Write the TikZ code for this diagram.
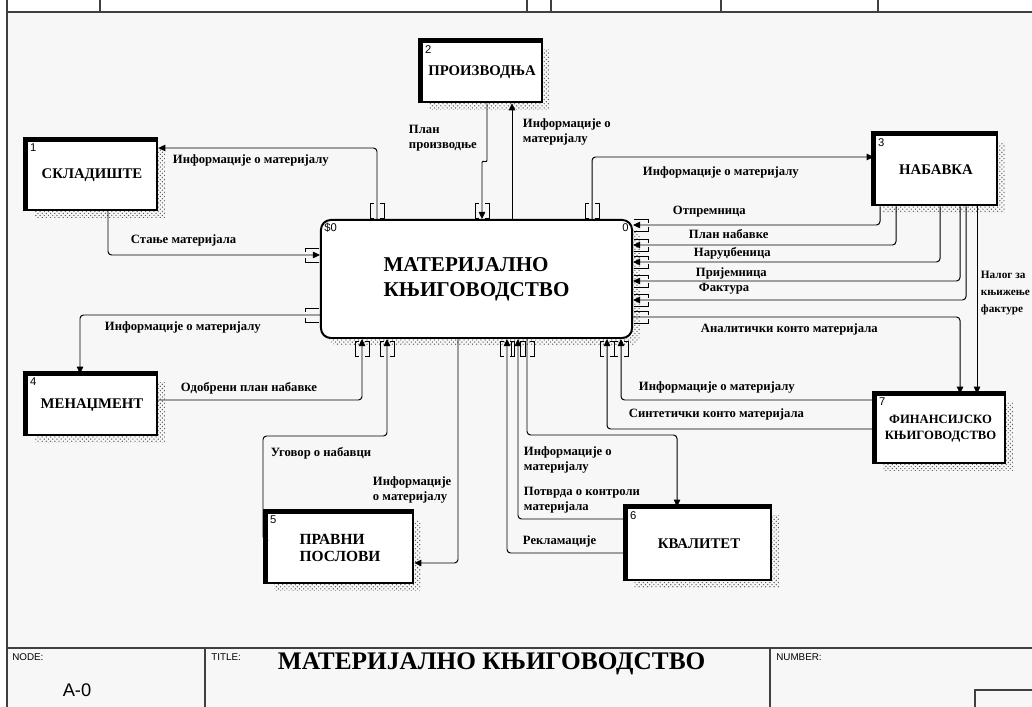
\documentclass[tikz,border=0pt]{standalone}
\usepackage{fontspec}
\setmainfont{Liberation Serif}
\newfontfamily\sansfont{Liberation Sans}
\usetikzlibrary{arrows.meta,patterns,shadows}
\definecolor{SheetGray}{HTML}{F7F7F7}
\definecolor{ShadowGray}{HTML}{5A5A5A}
\definecolor{RuleGray}{HTML}{404040}
\tikzset{
  actbox/.style={draw=black,fill=white,line width=1.8pt,
    font=\fontsize{10.5}{12.5}\selectfont\bfseries,align=center,inner sep=2pt,
    general shadow={shadow xshift=5.5pt,shadow yshift=-5.5pt,
      pattern=crosshatch dots,pattern color=ShadowGray}},
  mainbox/.style={draw=black,fill=white,line width=1.4pt,rounded corners=7pt,
    minimum width=7.775cm,minimum height=2.95cm,
    font=\fontsize{15}{18}\selectfont\bfseries,align=left,inner sep=2pt,
    general shadow={shadow xshift=5.5pt,shadow yshift=-5.5pt,
      pattern=crosshatch dots,pattern color=ShadowGray}},
  boxnum/.style={anchor=north west,inner sep=3pt,font=\sansfont\fontsize{8}{9}\selectfont},
  boxrim/.style={line width=3.4pt},
  flow/.style={line width=0.7pt,rounded corners=2.5pt,-{Triangle[length=5pt,width=4.6pt]}},
  tunnel/.style={line width=0.6pt},
  flowlabel/.style={anchor=west,inner sep=0.5pt,align=left,
    font=\fontsize{9}{10.8}\selectfont\bfseries},
  framerule/.style={line width=0.8pt,draw=RuleGray},
  sheettext/.style={anchor=north west,inner sep=0pt,font=\sansfont\fontsize{7}{8}\selectfont},
}
\begin{document}
\begin{tikzpicture}[x=0.025cm,y=-0.025cm]
  \useasboundingbox (0,0) rectangle (1032,707);
  \fill[white] (0,0) rectangle (1032,707);
  \fill[SheetGray] (7,12) rectangle (1032,707);
  \draw[framerule] (7,0) -- (7,707);
  \draw[framerule] (7,12) -- (1032,12);
  \foreach \x in {100,527,551,721,878} \draw[framerule] (\x,0) -- (\x,12);
  \draw[framerule] (7,648) -- (1032,648);
  \draw[framerule] (205,648) -- (205,707);
  \draw[framerule] (770,648) -- (770,707);
  \draw[framerule] (975,707) |- (1032,690);
  \node[sheettext] (nodelbl) at (12,653) {NODE:};
  \node[sheettext] (titlelbl) at (211,653) {TITLE:};
  \node[sheettext] (numlbl) at (776,653) {NUMBER:};
  \node[font=\sansfont\fontsize{13}{15}\selectfont] (nodeno) at (77,690) {A-0};
  \node[anchor=west,font=\fontsize{18}{21}\selectfont\bfseries] (titletxt) at (273,664) {МАТЕРИЈАЛНО КЊИГОВОДСТВО};

  \node[mainbox] (main) at (476.5,279) {МАТЕРИЈАЛНО\\КЊИГОВОДСТВО};
  \node[actbox,minimum width=3.25cm,minimum height=1.725cm] (skl) at (92,175.5) {СКЛАДИШТЕ};
  \node[actbox,minimum width=3.0cm,minimum height=1.5cm] (pro) at (482,72) {ПРОИЗВОДЊА};
  \node[actbox,minimum width=3.05cm,minimum height=1.75cm] (nab) at (936,170) {НАБАВКА};
  \node[actbox,minimum width=3.25cm,minimum height=1.5cm] (men) at (92,405) {МЕНАЏМЕНТ};
  \node[actbox,minimum width=3.65cm,minimum height=1.75cm,align=left,
    font=\fontsize{11}{12.5}\selectfont\bfseries] (prav) at (340,548) {ПРАВНИ\\ПОСЛОВИ};
  \node[actbox,minimum width=3.6cm,minimum height=1.8cm] (kval) at (699,544) {КВАЛИТЕТ};
  \node[actbox,minimum width=3.225cm,minimum height=1.7cm,
    font=\fontsize{9}{11.5}\selectfont\bfseries] (fin) at (940.5,429) {ФИНАНСИЈСКО\\КЊИГОВОДСТВО};
  \foreach \b in {skl,pro,nab,men,prav,kval,fin}
    \draw[boxrim] (\b.south west) -- (\b.north west) -- (\b.north east);
  \foreach \b/\n in {skl/1,pro/2,nab/3,men/4,prav/5,kval/6,fin/7}
    \node[boxnum] (num\b) at (\b.north west) {\n};
  \node[boxnum] (mainsum) at (main.north west) {\$0};
  \node[boxnum,anchor=north east] (mainno) at (main.north east) {0};

  \foreach \x in {377,482,592} {
    \draw[tunnel] (\x-3,203) -| (\x-7,218) -- (\x-3,218);
    \draw[tunnel] (\x+3,203) -| (\x+7,218) -- (\x+3,218);
  }
  \foreach \x in {362,387,507,518,527,607,621} {
    \draw[tunnel] (\x-3,341) -| (\x-7,356) -- (\x-3,356);
    \draw[tunnel] (\x+3,341) -| (\x+7,356) -- (\x+3,356);
  }
  \foreach \y in {255,315} {
    \draw[tunnel] (305,\y-3) |- (319,\y-7);
    \draw[tunnel] (305,\y+3) |- (319,\y+7);
  }
  \foreach \y in {225,245,262,281,300,317} {
    \draw[tunnel] (648,\y-2) |- (634,\y-6);
    \draw[tunnel] (648,\y+2) |- (634,\y+6);
  }

  \draw[flow] (main.north -| 377,0) |- (skl.east |- 0,148);
  \draw[flow] (skl.south -| 108,0) |- (main.west |- 0,255);
  \draw[flow] (pro.south -| 487,0) -- (487,157) .. controls (487,163) and (482,160) .. (482,166)
    -- (main.north -| 482,0);
  \draw[flow] (main.north -| 512,0) -- (pro.south -| 512,0);
  \draw[flow] (main.north -| 592,0) |- (nab.west |- 0,157);
  \foreach \x/\y in {880/225,896/245,940/262,960/281,966/300}
    \draw[flow] (nab.south -| \x,0) |- (main.east |- 0,\y);
  \draw[flow] (main.east |- 0,317) -| (fin.north -| 960,0);
  \draw[flow] (nab.south -| 977,0) -- (fin.north -| 977,0);
  \draw[flow] (main.west |- 0,315) -| (men.north -| 80,0);
  \draw[flow] (men.east |- 0,400) -| (main.south -| 362,0);
  \draw[flow] (prav.west |- 0,540) -| (263,436) -| (main.south -| 387,0);
  \draw[flow] (main.south -| 458,0) |- (prav.east |- 0,563);
  \draw[flow] (kval.west |- 0,553) -| (main.south -| 507,0);
  \draw[flow] (kval.west |- 0,519) -| (main.south -| 518,0);
  \draw[flow] (main.south -| 527,0) -- (527,435) -| (kval.north -| 677,0);
  \draw[flow] (fin.west |- 0,400) -| (main.south -| 621,0);
  \draw[flow] (fin.west |- 0,429) -| (main.south -| 607,0);

  \node[flowlabel] (lsklinfo) at (172,160) {Информације о материјалу};
  \node[flowlabel] (lstanje) at (130,240) {Стање материјала};
  \node[flowlabel] (lplanpr) at (408,138) {План\\производње};
  \node[flowlabel] (lproinfo) at (522,132) {Информације о\\материјалу};
  \node[flowlabel] (lnabinfo) at (642,172) {Информације о материјалу};
  \node[flowlabel] (lotpr) at (672,212) {Отпремница};
  \node[flowlabel] (lplannab) at (688,234) {План набавке};
  \node[flowlabel] (lnarudz) at (693,253) {Наруџбеница};
  \node[flowlabel] (lprij) at (695,273) {Пријемница};
  \node[flowlabel] (lfakt) at (698,289) {Фактура};
  \node[flowlabel] (lanal) at (700,329) {Аналитички конто материјала};
  \node[flowlabel,font=\fontsize{8}{12.4}\selectfont\bfseries] (lnalog) at (980,293) {Налог за\\књижење\\фактуре};
  \node[flowlabel] (lmeninfo) at (104,327) {Информације о материјалу};
  \node[flowlabel] (lodobr) at (180,388) {Одобрени план набавке};
  \node[flowlabel] (lugovor) at (270,453) {Уговор о набавци};
  \node[flowlabel] (lpravinfo) at (372,490) {Информације\\о материјалу};
  \node[flowlabel] (lkvalinfo) at (523,460) {Информације о\\материјалу};
  \node[flowlabel] (lpotvrda) at (523,500) {Потврда о контроли\\материјала};
  \node[flowlabel] (lreklam) at (522,541) {Рекламације};
  \node[flowlabel] (lfininfo) at (638,387) {Информације о материјалу};
  \node[flowlabel] (lsint) at (628,414) {Синтетички конто материјала};
\end{tikzpicture}
\end{document}
